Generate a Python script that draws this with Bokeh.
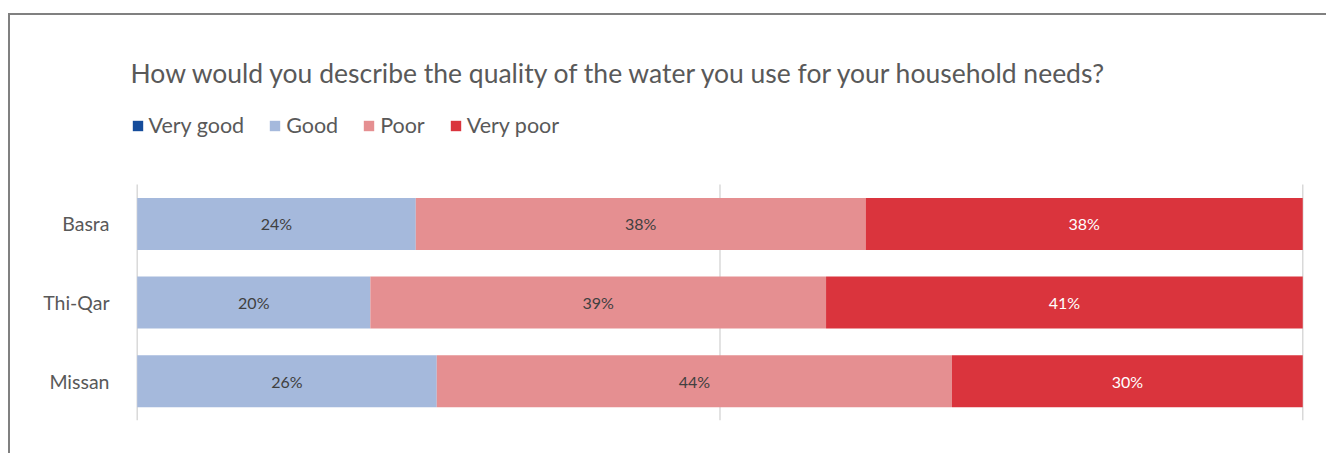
from bokeh.plotting import figure
from bokeh.models import (ColumnDataSource, Range1d, Legend, LegendItem, Label,
                          LabelSet, FixedTicker)
from bokeh.core.properties import value
from bokeh.embed import file_html
from bokeh.resources import INLINE

# ---------------- data ----------------
regions = ["Basra", "Thi-Qar", "Missan"]
series = ["Very good", "Good", "Poor", "Very poor"]
very_good = [0.0, 0.0, 0.0]
good = [23.9, 20.0, 25.7]
poor = [38.6, 39.1, 44.2]
very_poor = [37.5, 40.9, 30.1]
good_labels = ["24%", "20%", "26%"]
poor_labels = ["38%", "39%", "44%"]
very_poor_labels = ["38%", "41%", "30%"]
x_ticks = [0, 50, 100]
title_text = "How would you describe the quality of the water you use for your household needs?"

colors = ["#154C9B", "#A5B9DC", "#E58F91", "#DA343D"]
FONT = "Lato"
TEXT_COLOR = "#595959"

# ---------------- derived ----------------
n = len(regions)
ypos = [n - 1 - i for i in range(n)]          # Basra on top
poor_end = [g + p for g, p in zip(good, poor)]
good_mid = [g / 2 for g in good]
poor_mid = [g + p / 2 for g, p in zip(good, poor)]
vpoor_mid = [pe + v / 2 for pe, v in zip(poor_end, very_poor)]

source = ColumnDataSource(dict(y=ypos, **{
    "Very good": very_good, "Good": good, "Poor": poor, "Very poor": very_poor}))

p = figure(width=1318, height=440, output_backend="svg", toolbar_location=None,
           y_range=Range1d(-0.5, 4.46), x_range=Range1d(-0.92, 100.15),
           min_border_left=116, min_border_right=24, min_border_top=15, min_border_bottom=35)
p.styles = {"border-top": "2px solid #808080", "border-left": "2px solid #808080",
            "margin-top": "13px", "margin-left": "8px"}

# grid lines (only across the bar area)
p.segment(x0=x_ticks, y0=[-0.5] * len(x_ticks), x1=x_ticks, y1=[n - 0.5] * len(x_ticks),
          line_color="#d9d9d9", line_width=1.5)

renderers = p.hbar_stack(series, y="y", height=0.66, color=colors, line_color=None,
                         source=source)

# axes
p.xaxis.visible = False
p.xgrid.grid_line_color = None
p.ygrid.grid_line_color = None
p.outline_line_color = None
p.yaxis.ticker = FixedTicker(ticks=ypos)
p.yaxis.major_label_overrides = {y: r for y, r in zip(ypos, regions)}
p.yaxis.axis_line_color = None
p.yaxis.major_tick_line_color = None
p.yaxis.minor_tick_line_color = None
p.yaxis.major_tick_out = 0
p.yaxis.major_label_standoff = 17
p.yaxis.major_label_text_font = FONT
p.yaxis.major_label_text_font_size = "19.5px"
p.yaxis.major_label_text_color = TEXT_COLOR

# value labels
lab_src_dark = ColumnDataSource(dict(x=good_mid + poor_mid, y=ypos + ypos,
                                     t=good_labels + poor_labels))
lab_src_light = ColumnDataSource(dict(x=vpoor_mid, y=ypos, t=very_poor_labels))
for src, col in ((lab_src_dark, "#404040"), (lab_src_light, "white")):
    p.add_layout(LabelSet(x="x", y="y", text="t", source=src, text_align="center",
                          text_baseline="middle", text_font=value(FONT),
                          text_font_size=value("16px"), text_color=value(col)))

# title
p.add_layout(Label(x=4, y=348, x_units="screen", y_units="screen", text=title_text,
                   text_font=FONT, text_font_size="26.5px", text_color=TEXT_COLOR,
                   text_baseline="alphabetic"))

# legend
items = [LegendItem(label=s, renderers=[r]) for s, r in zip(series, renderers)]
legend = Legend(items=items, orientation="horizontal", location=(4.5, 282),
                glyph_width=13, glyph_height=13, label_standoff=5, spacing=24,
                padding=0, margin=0, border_line_color=None, background_fill_alpha=0,
                label_text_font=FONT, label_text_font_size="21.5px",
                label_text_color=TEXT_COLOR)
p.add_layout(legend, "center")

open("out.html", "w").write(file_html(p, INLINE))
